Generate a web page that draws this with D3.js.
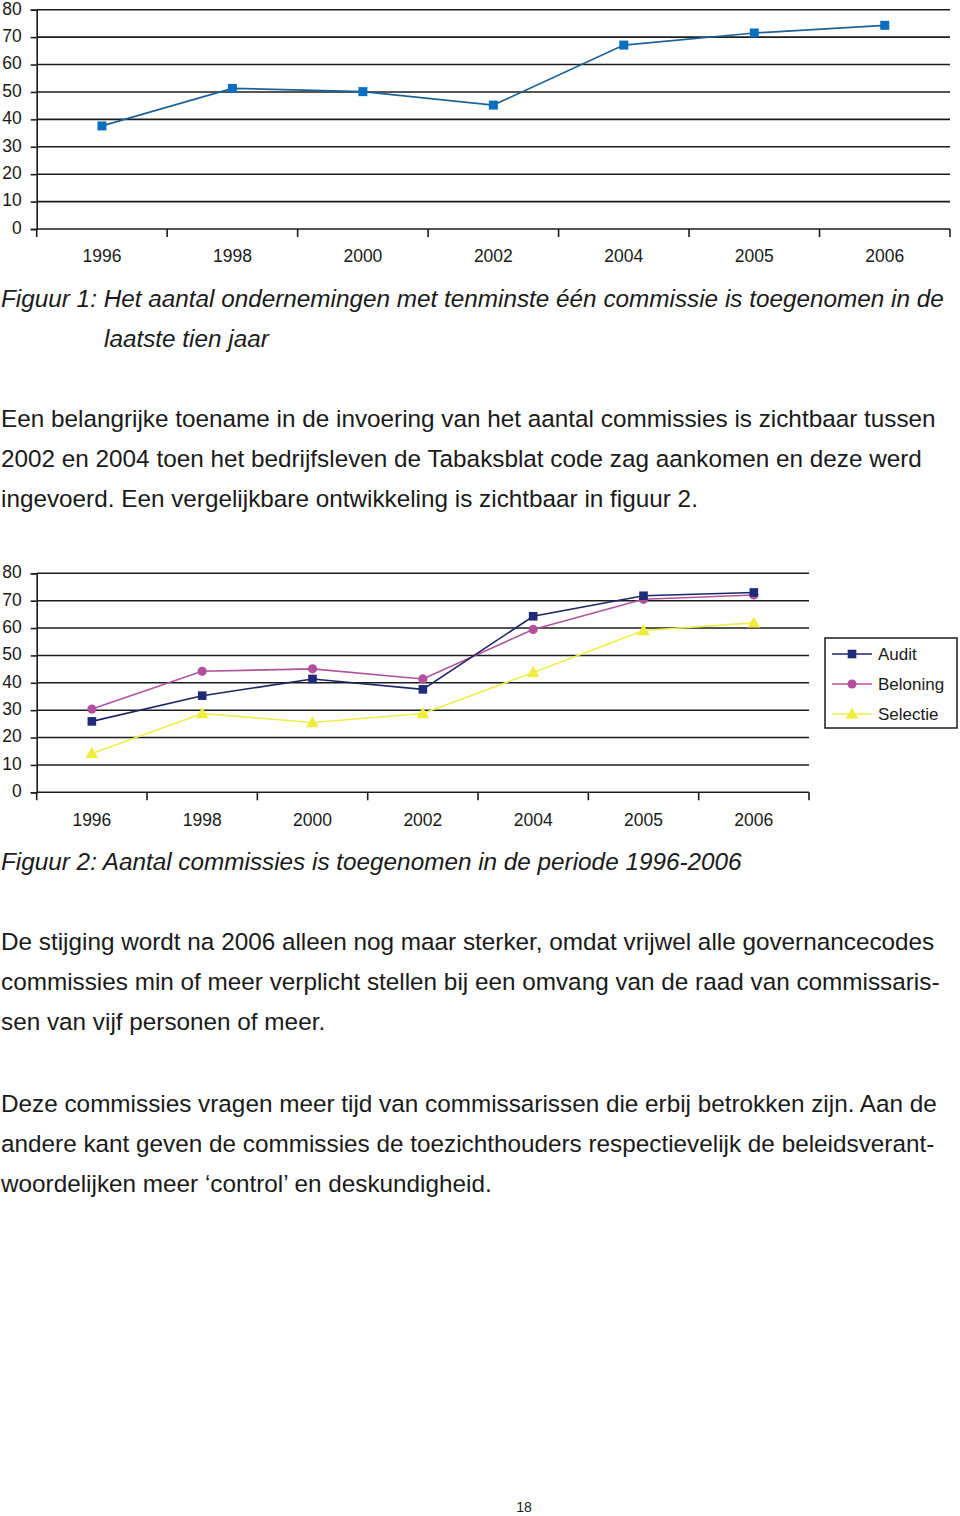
<!DOCTYPE html>
<html><head><meta charset="utf-8">
<script src="https://cdn.jsdelivr.net/npm/d3@7"></script>
<style>
html,body{margin:0;padding:0;background:#fff;}
svg{display:block;}
text{font-family:"Liberation Sans",Arial,Helvetica,sans-serif;fill:#1a1a1a;}
</style></head>
<body>
<svg id="page" width="960" height="1516"></svg>
<script>
// ---- data ----
const years = ["1996","1998","2000","2002","2004","2005","2006"];
const yTicks = [0,10,20,30,40,50,60,70,80];
const fig1Values = [37.6, 51.3, 50.1, 45.2, 67.1, 71.5, 74.3];
const auditValues = [25.9, 35.3, 41.4, 37.6, 64.3, 71.8, 73.0];
const beloningValues = [30.4, 44.2, 45.1, 41.4, 59.5, 70.5, 72.1];
const selectieValues = [14.2, 28.8, 25.5, 28.8, 43.8, 59.1, 61.9];
const seriesNames = ["Audit","Beloning","Selectie"];

const fig1Caption = ["Figuur 1: Het aantal ondernemingen met tenminste één commissie is toegenomen in de","laatste tien jaar"];
const para1 = ["Een belangrijke toename in de invoering van het aantal commissies is zichtbaar tussen",
 "2002 en 2004 toen het bedrijfsleven de Tabaksblat code zag aankomen en deze werd",
 "ingevoerd. Een vergelijkbare ontwikkeling is zichtbaar in figuur 2."];
const fig2Caption = "Figuur 2: Aantal commissies is toegenomen in de periode 1996-2006";
const para2 = ["De stijging wordt na 2006 alleen nog maar sterker, omdat vrijwel alle governancecodes",
 "commissies min of meer verplicht stellen bij een omvang van de raad van commissaris-",
 "sen van vijf personen of meer."];
const para3 = ["Deze commissies vragen meer tijd van commissarissen die erbij betrokken zijn. Aan de",
 "andere kant geven de commissies de toezichthouders respectievelijk de beleidsverant-",
 "woordelijken meer \u2018control\u2019 en deskundigheid."];
const pageNumber = "18";

const svg = d3.select("#page");
const gridColor = "#1c1c1c";

function drawChart(g, opts){
  const x = d3.scaleBand().domain(years).range([opts.x0, opts.x1]).paddingInner(0).paddingOuter(0);
  const y = d3.scaleLinear().domain([0,80]).range([opts.yBottom, opts.yTop]);
  // gridlines
  g.append("g").selectAll("line").data(yTicks.filter(d=>d>0)).join("line")
    .attr("x1", opts.x0).attr("x2", opts.x1)
    .attr("y1", d=>y(d)).attr("y2", d=>y(d))
    .attr("stroke", gridColor).attr("stroke-width", 1.6);
  // y axis
  const ya = g.append("g").attr("transform", `translate(${opts.x0},0)`)
    .call(d3.axisLeft(y).tickValues(yTicks).tickSize(6).tickPadding(9).tickFormat(d3.format("d")));
  ya.select(".domain").attr("stroke", gridColor).attr("stroke-width",1.6);
  ya.selectAll(".tick line").attr("stroke", gridColor).attr("stroke-width",1.6);
  ya.selectAll(".tick text").attr("font-size", 17.5).attr("font-family", '"Liberation Sans",Arial,sans-serif').attr("fill","#1a1a1a").attr("dy","0.25em");
  // x axis line & boundary ticks
  const bounds = years.map(d=>x(d)).concat([x(years[years.length-1]) + x.bandwidth()]);
  g.append("line").attr("x1", opts.x0).attr("x2", opts.x1).attr("y1", y(0)).attr("y2", y(0))
    .attr("stroke", gridColor).attr("stroke-width",1.6);
  g.append("g").selectAll("line").data(bounds).join("line")
    .attr("x1", d=>d).attr("x2", d=>d).attr("y1", y(0)).attr("y2", y(0)+8)
    .attr("stroke", gridColor).attr("stroke-width",1.6);
  // x labels via axis
  const xa = g.append("g").attr("transform", `translate(0,${y(0)})`)
    .call(d3.axisBottom(x).tickSize(0).tickPadding(opts.labelPad));
  xa.select(".domain").remove();
  xa.selectAll(".tick text").attr("font-size", 17.5).attr("font-family", '"Liberation Sans",Arial,sans-serif').attr("fill","#1a1a1a");
  return {x, y};
}

function cx(x, d){ return x(d) + x.bandwidth()/2; }

// ---------- Figure 1 ----------
const g1 = svg.append("g");
const s1 = drawChart(g1, {x0:36.7, x1:950, yTop:9.7, yBottom:229, labelPad:21});
const line1 = d3.line().x((d,i)=>cx(s1.x, years[i])).y(d=>s1.y(d));
g1.append("path").datum(fig1Values).attr("d", line1).attr("fill","none")
  .attr("stroke","#1d6297").attr("stroke-width",1.7);
g1.append("g").selectAll("rect").data(fig1Values).join("rect")
  .attr("x",(d,i)=>cx(s1.x, years[i])-4.5).attr("y", d=>s1.y(d)-4.5)
  .attr("width",9).attr("height",9).attr("fill","#0b6fbf");

// ---------- Figure 2 ----------
const g2 = svg.append("g");
const s2 = drawChart(g2, {x0:36.7, x1:809, yTop:573.3, yBottom:792.3, labelPad:21});
const line2 = d3.line().x((d,i)=>cx(s2.x, years[i])).y(d=>s2.y(d));
const series = [
  {name:seriesNames[0], values:auditValues, line:"#1f2466", fill:"#1f2a78", shape:"square"},
  {name:seriesNames[1], values:beloningValues, line:"#b0549e", fill:"#b2509e", shape:"circle"},
  {name:seriesNames[2], values:selectieValues, line:"#eeee4a", fill:"#f0ec3c", shape:"triangle"}
];
function marker(sel, s, px, py){
  if(s.shape==="square"){
    sel.append("rect").attr("x",px-4.3).attr("y",py-4.3).attr("width",8.6).attr("height",8.6).attr("fill",s.fill);
  } else if(s.shape==="circle"){
    sel.append("circle").attr("cx",px).attr("cy",py).attr("r",4.6).attr("fill",s.fill);
  } else {
    sel.append("path").attr("d", d3.symbol(d3.symbolTriangle, 70)()).attr("transform",`translate(${px},${py+1})`).attr("fill",s.fill);
  }
}
// draw order: selectie, beloning, audit on top
[series[2], series[1], series[0]].forEach(s=>{
  const gs = g2.append("g");
  gs.append("path").datum(s.values).attr("d", line2).attr("fill","none")
    .attr("stroke", s.line).attr("stroke-width",1.6);
  s.values.forEach((v,i)=>marker(gs, s, cx(s2.x, years[i]), s2.y(v)));
});
// legend
const lg = svg.append("g");
lg.append("rect").attr("x",825).attr("y",638).attr("width",132).attr("height",90)
  .attr("fill","#fff").attr("stroke",gridColor).attr("stroke-width",1.5);
series.forEach((s,i)=>{
  const yy = 654 + i*30;
  lg.append("line").attr("x1",832).attr("x2",872).attr("y1",yy).attr("y2",yy).attr("stroke",s.line).attr("stroke-width",1.6);
  marker(lg, s, 852, yy);
  lg.append("text").attr("x",878).attr("y",yy+6).attr("font-size",17).text(s.name);
});

// ---------- text ----------
const FS = 24.3;
function lines(arr, x, y0, italic, xs){
  arr.forEach((t,i)=>{
    svg.append("text").attr("x", xs ? xs[i] : x).attr("y", y0 + i*40)
      .attr("font-size", FS).attr("font-style", italic ? "italic":"normal")
      .attr("fill","#1a1a1a").text(t);
  });
}
lines(fig1Caption, 1, 307, true, [1, 104]);
lines(para1, 1, 427, false);
lines([fig2Caption], 1, 870, true);
lines(para2, 1, 950, false);
lines(para3, 1, 1112, false);
svg.append("text").attr("x",524).attr("y",1512).attr("text-anchor","middle").attr("font-size",14).text(pageNumber);
</script>
</body></html>
